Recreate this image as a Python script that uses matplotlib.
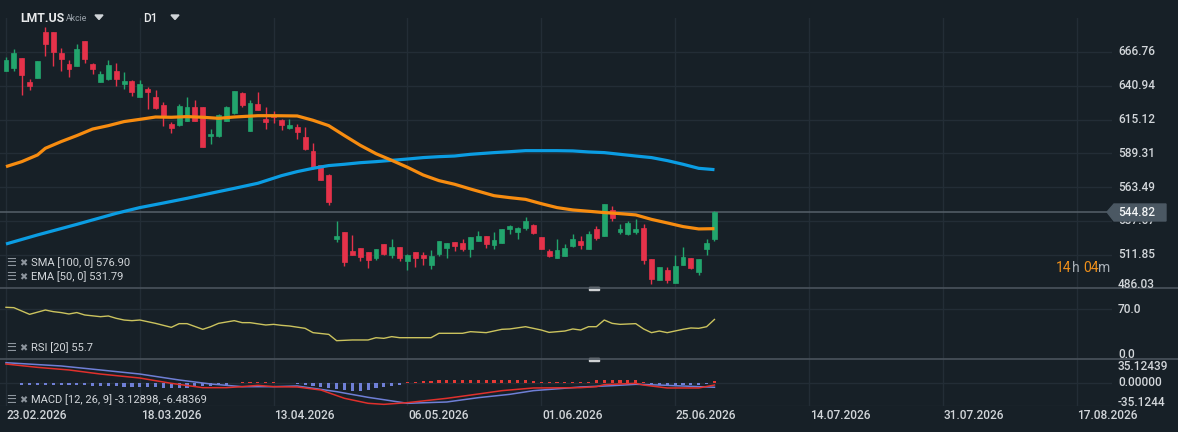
import matplotlib
matplotlib.use('Agg')
import matplotlib.pyplot as plt
import numpy as np
from matplotlib.transforms import blended_transform_factory, offset_copy
from matplotlib.patches import Polygon, Rectangle
from matplotlib.lines import Line2D

# ------------------------------------------------------------------ data
# daily candles LMT.US (index = trading day from 23.02.2026)
opens = [652.5, 654.3, 661.9, 643.6, 647.2, 682.3, 681.8, 666.0, 657.4, 656.3,
         675.2, 657.4, 644.1, 645.9, 652.0, 642.6, 644.6, 632.7, 638.5, 632.4,
         626.3, 611.8, 611.3, 614.3, 624.8, 624.5, 602.4, 602.4, 614.3, 619.9,
         635.5, 606.7, 626.8, 615.6, 618.7, 614.6, 608.5, 609.2, 601.6, 591.2,
         580.2, 572.8, 524.2, 529.1, 514.8, 516.8, 513.8, 509.7, 519.9, 511.7,
         517.6, 507.4, 513.8, 511.7, 504.3, 512.7, 517.3, 521.5, 520.6, 516.6,
         522.7, 526.2, 519.4, 521.1, 531.8, 529.5, 532.6, 534.6, 525.2, 514.8,
         509.7, 511.2, 518.6, 522.4, 516.6, 531.6, 526.5, 545.8, 529.3, 527.8,
         529.3, 532.3, 508.4, 492.9, 500.3, 490.6, 504.3, 509.2, 499.0, 516.6,
         524.2]
highs = [662.7, 669.1, 662.3, 646.1, 660.2, 686.1, 682.2, 669.8, 660.7, 672.9,
         675.5, 658.6, 652.5, 660.9, 658.6, 651.5, 645.0, 645.4, 640.0, 637.5,
         628.3, 613.6, 626.8, 632.4, 630.1, 625.0, 607.7, 619.2, 625.5, 637.0,
         636.0, 629.9, 636.0, 624.8, 621.7, 615.9, 615.6, 611.5, 609.5, 597.0,
         580.5, 573.6, 537.7, 529.3, 527.0, 517.3, 514.3, 516.3, 520.1, 523.9,
         518.1, 512.2, 514.0, 513.8, 515.5, 522.4, 520.9, 521.6, 523.7, 525.5,
         530.1, 526.5, 529.3, 531.6, 534.6, 532.9, 540.7, 535.1, 525.5, 516.3,
         523.9, 520.1, 527.8, 526.2, 530.1, 533.9, 550.7, 549.1, 535.4, 537.7,
         539.2, 535.4, 508.7, 502.6, 502.6, 511.7, 517.8, 509.4, 508.7, 523.9,
         545.3]
lows = [652.0, 652.5, 634.2, 638.0, 646.9, 663.7, 656.3, 652.5, 647.4, 656.0,
        658.6, 650.2, 644.0, 645.4, 641.1, 638.8, 632.9, 632.4, 623.5, 623.4,
        610.5, 605.2, 610.5, 614.0, 614.0, 594.0, 596.5, 602.0, 614.0, 619.6,
        625.0, 606.4, 622.4, 608.2, 612.8, 607.5, 607.7, 600.6, 592.2, 577.6,
        569.0, 549.9, 521.9, 503.6, 511.5, 507.4, 502.0, 508.2, 511.7, 509.7,
        507.4, 500.5, 502.8, 504.1, 501.3, 511.2, 509.7, 515.0, 515.0, 510.4,
        522.4, 517.3, 516.6, 520.9, 528.0, 524.2, 530.6, 527.8, 516.3, 510.4,
        509.4, 511.0, 518.1, 516.6, 516.3, 523.2, 526.2, 537.9, 528.0, 527.0,
        527.8, 505.1, 489.8, 492.6, 490.6, 490.3, 504.1, 501.3, 496.7, 512.0,
        522.7]
closes = [660.7, 666.0, 649.5, 641.1, 659.9, 672.6, 667.0, 661.7, 654.0, 669.1,
          661.7, 654.0, 649.7, 656.8, 646.4, 644.6, 636.5, 642.1, 636.5, 623.7,
          617.9, 609.0, 625.5, 624.8, 614.3, 594.5, 604.1, 618.7, 624.8, 636.7,
          626.5, 627.6, 622.7, 613.1, 616.9, 611.3, 611.0, 605.9, 592.7, 577.9,
          569.3, 552.5, 526.2, 506.6, 511.7, 510.4, 508.2, 516.1, 512.7, 517.8,
          509.2, 512.0, 509.7, 509.7, 511.0, 522.2, 520.7, 518.8, 516.1, 525.2,
          526.5, 520.4, 523.2, 531.4, 533.9, 532.3, 537.7, 528.8, 516.6, 511.0,
          515.5, 517.1, 523.9, 519.6, 527.8, 525.0, 550.4, 540.2, 531.6, 536.2,
          531.6, 508.2, 493.6, 502.3, 492.9, 503.3, 510.2, 502.0, 508.4, 520.9,
          544.82]

ema_idx = [0, 2, 4, 5, 7, 9, 11, 13, 15, 17, 19, 21, 23, 25, 27, 29, 32, 34, 37, 39,
           41, 43, 45, 47, 49, 51, 53, 55, 57, 59, 62, 64, 66, 68, 70, 72, 74, 76,
           78, 80, 82, 84, 86, 88, 90]
ema_val = [579.2, 583.0, 588.1, 593.2, 598.3, 602.9, 607.9, 610.5, 613.6, 615.3,
           617.1, 616.9, 617.4, 616.9, 616.1, 617.1, 618.1, 618.1, 617.9, 614.6,
           610.5, 602.9, 595.5, 589.1, 584.0, 578.7, 572.8, 568.5, 565.7, 562.1,
           557.0, 555.5, 554.2, 550.9, 547.9, 546.1, 545.1, 544.1, 543.3, 542.3,
           538.9, 536.2, 533.4, 531.6, 531.8]

sma_idx = [0, 4, 9, 14, 17, 20, 23, 27, 29, 32, 35, 37, 39, 41, 43, 45, 47, 49, 51,
           53, 55, 57, 59, 62, 64, 66, 68, 70, 72, 74, 76, 78, 80, 82, 84, 86, 88, 90]
sma_val = [520.1, 527.0, 535.1, 543.5, 547.9, 551.4, 555.0, 560.1, 562.6, 566.5,
           572.3, 575.4, 577.9, 580.0, 581.0, 582.2, 583.0, 584.0, 585.0, 586.1,
           586.8, 587.3, 588.6, 589.9, 590.6, 591.4, 591.4, 591.4, 591.2, 590.4,
           589.9, 588.6, 587.3, 586.1, 583.8, 581.0, 577.9, 576.9]

rsi_idx = [0, 1, 3, 5, 6, 7, 8, 9, 10, 12, 13, 14, 15, 16, 17, 19, 21, 22, 23, 25,
           26, 27, 29, 30, 31, 33, 34, 35, 36, 38, 39, 41, 42, 44, 46, 47, 48, 49,
           50, 54, 55, 58, 59, 61, 63, 64, 66, 68, 69, 71, 72, 73, 74, 75, 76, 77,
           78, 80, 81, 82, 83, 84, 86, 87, 88, 89, 90]
rsi_val = [72.8, 72.3, 62.9, 69.0, 66.7, 65.4, 63.4, 65.4, 62.0, 59.6, 60.6, 57.3,
           54.9, 54.0, 54.9, 50.2, 44.6, 49.8, 49.8, 41.8, 45.5, 50.2, 54.0, 51.2,
           51.2, 47.9, 48.8, 47.4, 46.5, 43.2, 37.1, 34.7, 25.8, 26.8, 26.8, 30.0,
           29.1, 31.5, 30.0, 30.0, 36.2, 36.2, 38.5, 37.1, 41.8, 42.3, 45.5, 40.8,
           37.5, 39.4, 42.3, 40.8, 45.5, 45.5, 54.9, 50.2, 48.8, 49.8, 42.3, 37.1,
           39.4, 37.1, 41.8, 43.7, 43.2, 45.5, 55.7]

macd_idx = [0, 4, 8, 12, 17, 21, 25, 28, 30, 32, 34, 37, 40, 43, 46, 48, 51, 56, 60,
            63, 67, 73, 75, 76, 80, 81, 84, 88, 90]
macd_val = [29.0, 23.9, 19.9, 13.7, 7.6, -0.5, -7.1, -7.1, -5.6, -3.6, -5.6, -6.1,
            -10.7, -23.4, -31.0, -32.6, -30.0, -23.4, -16.8, -11.7, -7.6, -7.1,
            -5.6, -2.5, -0.5, -3.1, -7.6, -7.6, -3.1]
signal_idx = [0, 7, 12, 17, 22, 26, 30, 34, 37, 42, 46, 48, 51, 56, 60, 64, 67, 73,
              77, 80, 83, 86, 90]
signal_val = [31.0, 26.0, 19.9, 13.7, 4.6, -1.5, -5.6, -5.6, -4.6, -13.2, -21.9,
              -25.5, -31.0, -29.0, -22.4, -17.3, -11.7, -6.1, -4.1, -2.0, -3.1,
              -4.6, -6.5]
hist_start = 2
hist_val = [-3.0, -3.0, -3.0, -3.0, -3.0, -3.5, -3.5, -3.5, -3.5, -4.5, -4.5, -4.5,
            -4.5, -5.5, -5.5, -6.0, -6.0, -6.0, -8.0, -8.0, -8.0, -7.0, -5.5, -4.5,
            -4.5, -3.5, -3.0, 0.0, 1.5, 1.5, 1.5, 1.5, 1.5, 0.0, 0.0, -2.0, -3.0,
            -4.5, -6.0, -7.5, -9.0, -10.5, -12.0, -12.0, -11.0, -7.5, -6.5, -4.0,
            -2.5, 1.5, 2.0, 3.0, 3.0, 4.0, 5.0, 5.0, 5.0, 5.0, 5.0, 5.0, 5.0, 5.0,
            5.0, 5.0, 5.0, 3.0, 2.0, 2.0, 2.0, 2.0, 2.0, 2.0, 2.0, 4.0, 5.0, 5.0,
            5.0, 5.0, 5.0, 1.5, -3.5, -3.5, -3.5, -3.5, -3.5, -3.5, -3.5, -2.0, 3.0]

price_ticks = [666.76, 640.94, 615.12, 589.31, 563.49, 537.67, 511.85, 486.03]
rsi_ticks = [70.0, 0.0]
macd_ticks = [35.12439, 0.0, -35.1244]
macd_tick_labels = ['35.12439', '0.00000', '-35.1244']
date_ticks = [0, 17, 34, 51, 68, 85, 102, 119, 136]
date_labels = ['23.02.2026', '18.03.2026', '13.04.2026', '06.05.2026', '01.06.2026',
               '25.06.2026', '14.07.2026', '31.07.2026', '17.08.2026']

# ------------------------------------------------------------------ style
BG = '#172027'
GRID = '#232d36'
SEP = '#4a535c'
TXT = '#d2d6da'
GREEN = '#22a56d'
RED = '#e5324a'
plt.rcParams['font.family'] = ['Roboto', 'DejaVu Sans']

W, H = 1178, 432
fig = plt.figure(figsize=(W / 100, H / 100), dpi=100, facecolor=BG)


def rect(x0, y0, x1, y1):
    return [x0 / W, 1 - y1 / H, (x1 - x0) / W, (y1 - y0) / H]


def fy(y):
    return 1 - y / H


ax = fig.add_axes(rect(0, 18, 1112, 288))
ax_rsi = fig.add_axes(rect(0, 288, 1112, 359), sharex=ax)
ax_macd = fig.add_axes(rect(0, 359, 1112, 406), sharex=ax)

for a in (ax, ax_rsi, ax_macd):
    a.set_facecolor(BG)
    for s in a.spines.values():
        s.set_visible(False)
    a.tick_params(length=0, labelbottom=False, labelleft=False)
    a.set_xticks(date_ticks)
    a.grid(True, color=GRID, lw=1.0)
    a.set_axisbelow(True)
ax.set_xlim(-0.76, 140.5)

# ------------------------------------------------------------------ price pane
o = np.array(opens); h = np.array(highs); l = np.array(lows); c = np.array(closes)
idx = np.arange(len(o))
cols = np.where(c >= o, GREEN, RED)
ax.vlines(idx, l, h, colors=cols, lw=1.0, zorder=3)
ax.bar(idx, np.maximum(np.abs(c - o), 0.5), bottom=np.minimum(o, c), width=0.62,
       color=cols, edgecolor=cols, lw=0.5, zorder=4)
ax.plot(sma_idx, sma_val, color='#0b9de3', lw=2.3, zorder=5, solid_capstyle='butt')
ax.plot(ema_idx, ema_val, color='#f78c10', lw=2.3, zorder=5, solid_capstyle='butt')
ax.axhline(closes[-1], color='#56606a', lw=1.1, zorder=2)
ax.set_yticks(price_ticks)
ax.set_ylim(486.48, 692.73)

# ------------------------------------------------------------------ RSI pane
ax_rsi.plot(rsi_idx, rsi_val, color='#cbc35e', lw=1.0)
ax_rsi.set_yticks([70])
ax_rsi.set_ylim(0, 100)

# ------------------------------------------------------------------ MACD pane
hist_idx = np.arange(hist_start, hist_start + len(hist_val))
hv = np.array(hist_val)
ax_macd.bar(hist_idx, hv, width=0.4, color=np.where(hv >= 0, '#e53a35', '#6f7fd6'))
ax_macd.plot(signal_idx, signal_val, color='#6f7fd6', lw=1.1)
ax_macd.plot(macd_idx, macd_val, color='#e0302c', lw=1.1)
ax_macd.set_yticks([0, -35.1244])
ax_macd.set_ylim(-35.1244, 36.65)


# ------------------------------------------------------------------ right scale labels
def scale_labels(a, vals, labels, shifts):
    tr = blended_transform_factory(fig.transFigure, a.transData)
    for v, lab, dy in zip(vals, labels, shifts):
        t = offset_copy(tr, fig=fig, x=0, y=dy, units='dots')
        fig.text(1118 / W, v, lab, transform=t, color=TXT, fontsize=8.6,
                 fontweight='medium', va='center', ha='left')


scale_labels(ax, price_ticks, ['{:.2f}'.format(v) for v in price_ticks],
             [0, 0, 0, 0, 0, 0, 0, 4])
scale_labels(ax_rsi, rsi_ticks, ['{:.1f}'.format(v) for v in rsi_ticks], [0, 5])
scale_labels(ax_macd, macd_ticks, macd_tick_labels, [-7, 0, 3])

# current price tag
tag = [(1107, 212), (1114, 204), (1166, 204), (1166, 221), (1114, 221)]
fig.add_artist(Polygon([(x / W, fy(y)) for x, y in tag], closed=True,
                       transform=fig.transFigure, color='#4b5863', zorder=10))
fig.text(1118 / W, fy(212.5), '{:.2f}'.format(closes[-1]), color='#f2f4f5',
         fontsize=8.6, fontweight='medium', va='center', ha='left', zorder=11)

# dates
tr = blended_transform_factory(ax_macd.transData, fig.transFigure)
for i, lab in zip(date_ticks, date_labels):
    fig.text(i + 0.1, fy(415.5), lab, transform=tr, color=TXT, fontsize=8.6,
             fontweight='medium', va='center', ha='left')

# pane separators and handles
for y in (288, 359):
    fig.add_artist(Line2D([0, 1], [fy(y), fy(y)], transform=fig.transFigure,
                          color=SEP, lw=1.2))
    fig.add_artist(Rectangle((589 / W, fy(y + 1.5)), 10 / W, 3 / H,
                             transform=fig.transFigure, color='#cfd2d4'))

# header
fig.text(20 / W, fy(18), 'LMT.US', color='#e8eaec', fontsize=8.8, fontweight='bold',
         va='center', ha='left')
fig.text(66 / W, fy(18.5), 'Akcie', color='#9aa2aa', fontsize=6.3, va='center', ha='left')
fig.text(143 / W, fy(18), 'D1', color='#e8eaec', fontsize=8.6, fontweight='medium',
         va='center', ha='left')
for x0 in (95, 171):
    tri = [(x0, 15), (x0 + 8, 15), (x0 + 4, 19.5)]
    fig.add_artist(Polygon([(x / W, fy(y)) for x, y in tri], closed=True,
                           transform=fig.transFigure, color='#d0d4d8'))

# indicator legends
for y, lab in ((263, 'SMA [100, 0] 576.90'), (277, 'EMA [50, 0] 531.79'),
               (348, 'RSI [20] 55.7'), (400, 'MACD [12, 26, 9] -3.12898, -6.48369')):
    fig.text(6 / W, fy(y), '☰', color='#8e969e', fontsize=8, va='center', ha='left',
             family='DejaVu Sans')
    fig.text(19 / W, fy(y), '✖', color='#8e969e', fontsize=7, va='center', ha='left',
             family='DejaVu Sans')
    fig.text(31 / W, fy(y), lab, color=TXT, fontsize=8.0, va='center', ha='left')

# countdown "14h 04m", pieces chained one after another
t = ax.annotate('14', xy=(1056 / W, fy(268)), xycoords='figure fraction', color='#f0901a',
                fontsize=10, va='center', ha='left', annotation_clip=False)
for s, col in (('h ', '#a7aeb5'), ('04', '#f0901a'), ('m', '#a7aeb5')):
    t = ax.annotate(s, xy=(1, 0.5), xycoords=t, color=col, fontsize=10,
                    va='center', ha='left', annotation_clip=False)

fig.savefig('out.png', dpi=100, facecolor=BG)
